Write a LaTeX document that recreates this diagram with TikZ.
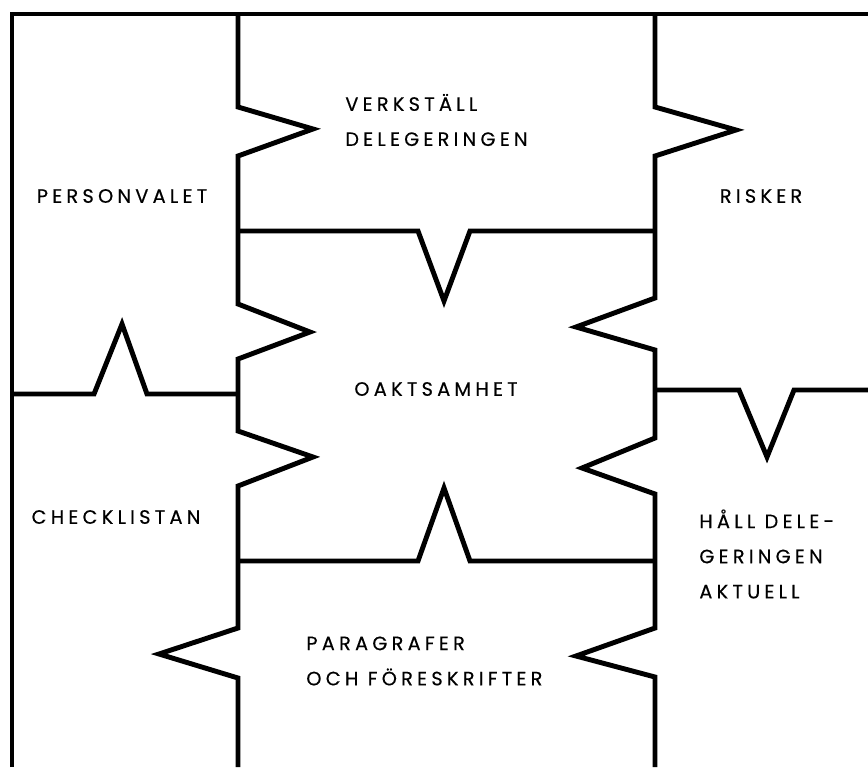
\documentclass[tikz,border=0pt]{standalone}
\usepackage{fontspec}
\newfontfamily\tagfont[LetterSpace=22, FakeBold=0.4]{Poppins}

\begin{document}
\begin{tikzpicture}[x=0.02cm,y=-0.02cm]
    \tikzset{wall/.style={line width=2.8pt, line join=miter},
             tag/.style={font=\tagfont\fontsize{11}{20}\selectfont, inner sep=0pt, align=left}}
    \useasboundingbox (0,0) rectangle (868,767);
    % frame
    \draw[wall] (12,767) -- (12,14) -- (868,14);
    % left wall
    \draw[wall] (238,14) -- (238,107) -- (313,129) -- (238,156) -- (238,304) -- (310,332) -- (238,359)
        -- (238,431) -- (313,457) -- (238,486) -- (238,628) -- (159,654) -- (238,678) -- (238,767);
    % right wall
    \draw[wall] (655,14) -- (655,107) -- (736,130) -- (655,156) -- (655,298) -- (576,327) -- (655,350)
        -- (655,438) -- (582,468) -- (655,494) -- (655,628) -- (576,656) -- (655,677) -- (655,767);
    % cross walls
    \draw[wall] (238,231) -- (418,231) -- (444,301) -- (470,231) -- (655,231);
    \draw[wall] (12,394) -- (94,394) -- (122,324) -- (147,394) -- (238,394);
    \draw[wall] (238,561) -- (418,561) -- (444,488) -- (470,561) -- (655,561);
    \draw[wall] (655,390) -- (739,390) -- (767,457) -- (794,390) -- (868,390);
    % labels
    \node[tag, anchor=west] (verk) at (345,120) {VERKSTÄLL\\DELEGERINGEN};
    \node[tag] (pers) at (122,196) {PERSONVALET};
    \node[tag] (risk) at (761,196) {RISKER};
    \node[tag] (oakt) at (436,389) {OAKTSAMHET};
    \node[tag] (check) at (116,517) {CHECKLISTAN};
    \node[tag, anchor=west] (hall) at (699,554) {HÅLL DELE-\\GERINGEN\\AKTUELL};
    \node[tag, anchor=west] (para) at (306,661) {PARAGRAFER\\OCH FÖRESKRIFTER};
\end{tikzpicture}
\end{document}
